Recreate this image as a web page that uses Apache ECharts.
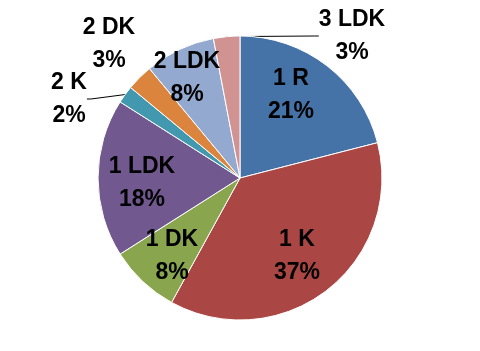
<!DOCTYPE html>
<html><head><meta charset="utf-8">
<script src="https://cdn.jsdelivr.net/npm/echarts@6/dist/echarts.min.js"></script>
<style>html,body{margin:0;padding:0;background:#fff}#c{width:480px;height:351px}</style>
</head><body><div id="c"></div>
<script>
const categories = ['1 R','1 K','1 DK','1 LDK','2 K','2 DK','2 LDK','3 LDK'];
const values = [21,37,8,18,2,3,8,3];
const colors = ['#4572A7','#AA4643','#89A54E','#71588F','#4198AF','#DB843D','#93A9CF','#D19392'];
const labelPos = [[291,95],[297,256],[172,256],[142,183],[69,99],[109,44],[187,78],[352,36]];
const outside = [false,false,false,false,true,true,false,true];
const withLine = [false,false,false,false,true,false,false,true];

const chart = echarts.init(document.getElementById('c'));
chart.setOption({
  animation:false,
  series:[{
    type:'pie',
    center:[240,178],
    radius:142,
    startAngle:90,
    clockwise:true,
    itemStyle:{borderColor:'#fff',borderWidth:1},
    label:{
      formatter:'{b}\n{d}%',
      color:'#000',
      fontFamily:'Liberation Sans',
      fontWeight:'bold',
      fontSize:23,
      lineHeight:33,
      align:'center'
    },
    labelLine:{lineStyle:{color:'#000',width:1},length:10,length2:4},
    labelLayout:function(p){
      const q = labelPos[p.dataIndex];
      return {x:q[0], y:q[1], align:'center', verticalAlign:'middle'};
    },
    data:categories.map((n,i)=>({
      name:n, value:values[i],
      itemStyle:{color:colors[i]},
      label:{position: outside[i]?'outside':'inside'},
      labelLine:{show: withLine[i]}
    }))
  }]
});
</script></body></html>
